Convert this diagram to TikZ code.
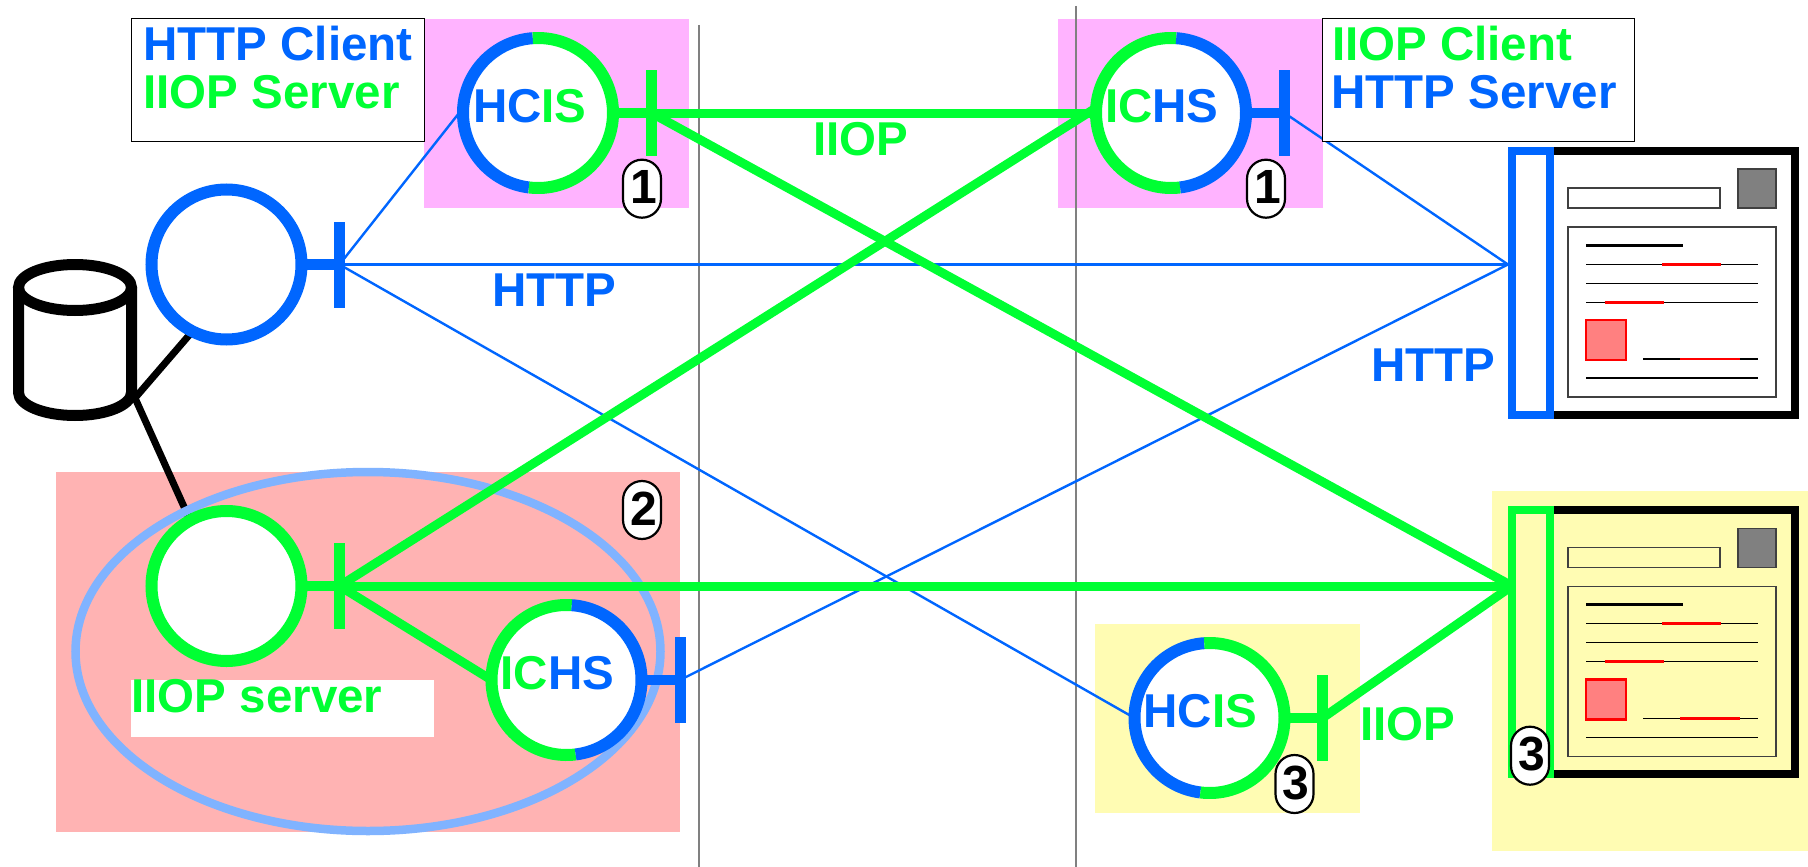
\documentclass[tikz,border=0pt]{standalone}
\usepackage{fontspec}
\setmainfont{Liberation Sans}
\usetikzlibrary{positioning}
\definecolor{cblue}{HTML}{0066FF}
\definecolor{cgreen}{HTML}{00FF33}
\definecolor{cpink}{HTML}{FFB3FF}
\definecolor{csalmon}{HTML}{FFB3B3}
\definecolor{cyellow}{HTML}{FFFCB3}
\definecolor{cring}{HTML}{80B3FF}
\pgfdeclarelayer{background}
\pgfsetlayers{background,main}
\tikzset{
    lbl/.style={anchor=base west,inner sep=0pt,outer sep=0pt,font=\fontsize{47.5}{48}\selectfont\bfseries},
    ring/.style={circle,minimum size=150pt,inner sep=0pt,outer sep=0pt,fill=white},
    tbar/.style={rectangle,minimum width=11pt,minimum height=86pt,inner sep=0pt,outer sep=0pt},
    wirethin/.style={cblue,line width=2.4pt},
    wirethick/.style={cgreen,line width=9pt},
    legendbox/.style={draw=black,fill=white,line width=1.5pt,inner sep=0pt,outer sep=0pt,minimum height=123pt},
    badge/.style={draw=black,fill=white,line width=2.2pt,rounded corners=19pt,minimum width=38pt,minimum height=58pt,inner sep=0pt,font=\fontsize{48}{48}\selectfont\bfseries},
    pagethin/.style={line width=1.5pt},
    pagered/.style={red,line width=2.5pt},
}
\begin{document}
\begin{tikzpicture}[x=1pt,y=-1pt]
    \useasboundingbox (0,0) rectangle (1808,867);

    % servers with two protocols
    \foreach \rname/\rx/\ry/\angA/\angB/\colA/\colB in {
        hcisA/538/113/94/263/cblue/cgreen,
        ichsA/1171/113/86/277/cgreen/cblue,
        ichsB/566.5/680/86/277/cgreen/cblue,
        hcisB/1209.5/718/94/263/cblue/cgreen%
    }{
        \node[ring] (\rname) at (\rx,\ry) {};
        \draw[\colA,line width=12pt] (\rname.\angA) arc[start angle=\angA,end angle=\angB,radius=75pt];
        \draw[\colB,line width=12pt] (\rname.\angB) arc[start angle=\angB,end angle=360+\angA,radius=75pt];
    }
    \node[ring,draw=cblue,line width=12pt] (httpsrv) at (226.5,264.5) {};
    \node[ring,draw=cgreen,line width=12pt] (iiopsrv) at (226.5,586) {};

    % bars
    \node[tbar,fill=cblue] (httpsrvbar) at (339.5,264.5) {};
    \node[tbar,fill=cgreen] (iiopsrvbar) at (339.5,586) {};
    \node[tbar,fill=cgreen] (hcisAbar) at (651.5,113) {};
    \node[tbar,fill=cblue] (ichsAbar) at (1284.5,113) {};
    \node[tbar,fill=cblue] (ichsBbar) at (680,680) {};
    \node[tbar,fill=cgreen] (hcisBbar) at (1322.5,718) {};

    \coordinate (httpport) at (1508,264.5);
    \coordinate (iiopport) at (1512,586);
    \coordinate (dbjoin) at (135,398);

    \begin{pgfonlayer}{background}
        \fill[cpink] (424,19) rectangle (689,208);
        \fill[cpink] (1058,19) rectangle (1323,208);
        \fill[csalmon] (56,472) rectangle (680,832);
        \fill[cyellow] (1095,624) rectangle (1360,813);
        \fill[cyellow] (1492,491) rectangle (1808,851);
        \draw[gray,line width=2.6pt] (699,25) -- (699,867);
        \draw[gray,line width=2.6pt] (1076,6) -- (1076,867);
        \draw[black,line width=7pt] (dbjoin) -- (httpsrv.243);
        \draw[black,line width=7pt] (dbjoin) -- (iiopsrv.119);
        \draw[cring,line width=8.5pt] (368,651.5) ellipse [x radius=292.5pt,y radius=179.5pt];
    \end{pgfonlayer}

    % stubs
    \draw[cgreen,line width=10.5pt] (hcisA) -- (hcisAbar);
    \draw[cblue,line width=10.5pt] (ichsA) -- (ichsAbar);
    \draw[cblue,line width=10.5pt] (ichsB) -- (ichsBbar);
    \draw[cgreen,line width=10.5pt] (hcisB) -- (hcisBbar);
    \draw[cblue,line width=10.5pt] (httpsrv) -- (httpsrvbar);
    \draw[cgreen,line width=10.5pt] (iiopsrv) -- (iiopsrvbar);

    % wires
    \draw[wirethin] (httpsrvbar.center) -- (hcisA.176);
    \draw[wirethin] (httpsrvbar.center) -- (httpport);
    \draw[wirethin] (httpsrvbar.center) -- (hcisB.west);
    \draw[wirethin] (ichsAbar.center) -- (httpport);
    \draw[wirethin] (ichsBbar.center) -- (httpport);
    \draw[wirethick] (hcisAbar.center) -- (ichsA.west);
    \draw[wirethick] (hcisAbar.center) -- (iiopport);
    \draw[wirethick] (iiopsrvbar.center) -- (ichsA.176);
    \draw[wirethick] (iiopsrvbar.center) -- (iiopport);
    \draw[wirethick] (iiopsrvbar.center) -- (ichsB.west);
    \draw[wirethick] (hcisBbar.center) -- (iiopport);

    % database
    \draw[black,line width=11pt] (75,287.5) ellipse [x radius=56.5pt,y radius=23pt];
    \draw[black,line width=11pt] (18.5,287.5) -- (18.5,392.5)
        arc[start angle=180,end angle=360,x radius=56.5pt,y radius=23pt] -- (131.5,287.5);

    % pages
    \foreach \dy/\colP in {0/cblue,359.3/cgreen}{
        \begin{scope}[shift={(0,\dy)}]
            \draw[black,line width=8pt] (1550,151) -- (1795,151) -- (1795,415) -- (1550,415);
            \draw[black!75,line width=1.5pt] (1568,188) rectangle (1720,208);
            \draw[black!75,fill=gray,line width=1.5pt] (1738,169) rectangle (1776,208);
            \draw[black!75,line width=1.5pt] (1568,227) rectangle (1776,397);
            \draw[black,line width=2.5pt] (1586,245.3) -- (1683,245.3);
            \foreach \ly in {264.3,283.3,302.3,378}{
                \draw[pagethin] (1586,\ly) -- (1758,\ly);
            }
            \draw[pagethin] (1643,359) -- (1758,359);
            \draw[pagered] (1662,264.3) -- (1721,264.3);
            \draw[pagered] (1604.5,302.3) -- (1664,302.3);
            \draw[pagered] (1680,359) -- (1740,359);
            \draw[red,fill=red!50,line width=2.5pt] (1586,320) rectangle (1626,360);
            \draw[\colP,line width=8pt] (1511.5,151) rectangle (1550,415);
        \end{scope}
    }

    % legends
    \node[legendbox,minimum width=293pt] (legendA) at (278,80.2) {};
    \node[legendbox,minimum width=312pt] (legendB) at (1478.5,80.2) {};
    \node[lbl,text=cblue] (legendAone) at (143.5,60.5) {HTTP Client};
    \node[lbl,text=cgreen] (legendAtwo) at (143.5,108) {IIOP Server};
    \node[lbl,text=cgreen] (legendBone) at (1332,60.5) {IIOP Client};
    \node[lbl,text=cblue] (legendBtwo) at (1331.5,108) {HTTP Server};

    % labels
    \node[lbl] (hcisAtext) at (473,122.7) {\textcolor{cblue}{HC}\textcolor{cgreen}{IS}};
    \node[lbl] (ichsAtext) at (1105,122.7) {\textcolor{cgreen}{IC}\textcolor{cblue}{HS}};
    \node[lbl] (ichsBtext) at (500.5,689.7) {\textcolor{cgreen}{IC}\textcolor{cblue}{HS}};
    \node[lbl] (hcisBtext) at (1143.5,727) {\textcolor{cblue}{HC}\textcolor{cgreen}{IS}};
    \node[lbl,text=cgreen] (iiopA) at (813,155) {IIOP};
    \node[lbl,text=cblue] (httpA) at (492.5,306) {HTTP};
    \node[lbl,text=cblue] (httpB) at (1371,381.7) {HTTP};
    \node[lbl,text=cgreen] (iiopB) at (1360.5,740.7) {IIOP};
    \node[fill=white,minimum width=303pt,minimum height=57pt,inner sep=0pt] (iiopbox) at (282.5,708.5) {};
    \node[lbl,text=cgreen] (iiopsrvtext) at (131.5,712) {IIOP server};

    % badges
    \foreach \bname/\bx/\by/\bnum in {badgeA/642/188.7/1,badgeB/1266/188.7/1,badgeC/642/510/2,badgeD/1294.5/784/3,badgeE/1530/755.7/3}{
        \node[badge] (\bname) at (\bx,\by) {\kern3pt\raisebox{3pt}{\bnum}};
    }
\end{tikzpicture}
\end{document}
